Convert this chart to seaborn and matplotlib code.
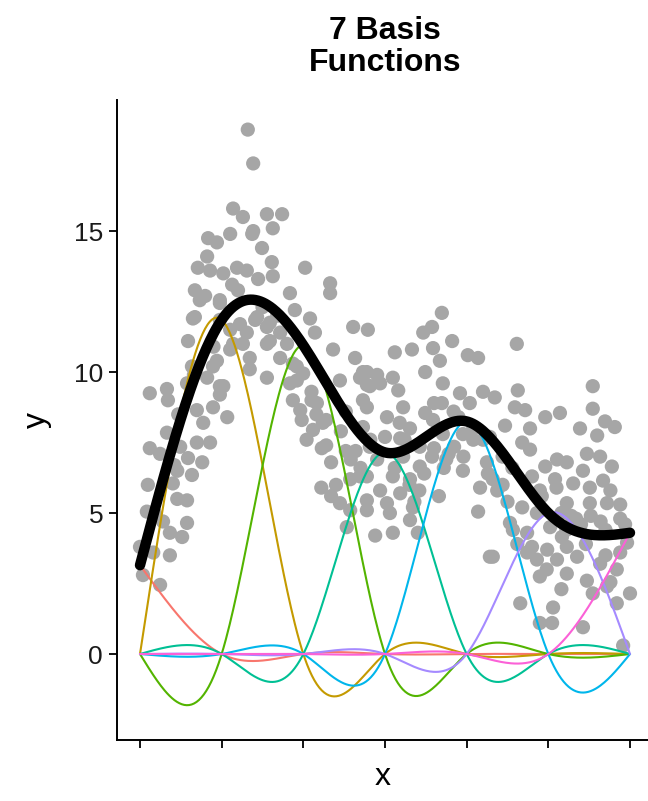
import numpy as np
import pandas as pd
import matplotlib
matplotlib.use("Agg")
import matplotlib.pyplot as plt
import seaborn as sns

# ---------------- data ----------------
title = "7 Basis\nFunctions"
knots = [0.0, 1/6, 2/6, 3/6, 4/6, 5/6, 1.0]
knot_values = [3.15, 11.85, 10.95, 7.15, 8.25, 5.0, 4.3]   # coefficient (height) of each basis
basis_names = ["b1", "b2", "b3", "b4", "b5", "b6", "b7"]
basis_colors = ["#F8766D", "#C49A00", "#53B400", "#00C094", "#00B6EB", "#A58AFF", "#FB61D7"]
yticks = [0, 5, 10, 15]

pts_x = [
    0.22, 0.231, 0.19, 0.21, 0.139, 0.157, 0.184, 0.137, 0.118, 0.143, 0.17, 0.198, 0.218, 0.112, 0.122,
    0.188, 0.163, 0.108, 0.163, 0.098, 0.184, 0.204, 0.106, 0.157, 0.184, 0.21,
    0.259, 0.29, 0.231, 0.271, 0.249, 0.269, 0.337, 0.271, 0.241, 0.388, 0.388, 0.306, 0.316, 0.347,
    0.235, 0.259, 0.218, 0.265, 0.357, 0.435, 0.465, 0.394, 0.286, 0.224, 0.439, 0.312, 0.333,
    0.229, 0.133, 0.163, 0.112, 0.239, 0.265, 0.286, 0.19, 0.259, 0.149, 0.32, 0.463, 0.096, 0.163,
    0.259, 0.306, 0.408, 0.463,
    0.02, 0.055, 0.057, 0.137, 0.17, 0.163, 0.149, 0.078, 0.116, 0.178, 0.129, 0.055, 0.02, 0.041,
    0.082, 0.116, 0.143, 0.098, 0.127, 0.076, 0.106, 0.016, 0.067, 0.076, 0.096, 0.014, 0.047, 0.096,
    0.061, 0.086, 0.0, 0.027, 0.061, 0.006, 0.041,
    0.224, 0.32, 0.312, 0.327, 0.361, 0.449, 0.455, 0.353, 0.373, 0.371, 0.429, 0.449, 0.408, 0.429,
    0.422, 0.463,
    0.616, 0.578, 0.596, 0.637, 0.52, 0.555, 0.598, 0.612, 0.669, 0.69, 0.455, 0.484, 0.516, 0.582,
    0.618, 0.469, 0.49, 0.527, 0.653, 0.7, 0.463, 0.537, 0.616, 0.673, 0.724, 0.504, 0.582, 0.598,
    0.455, 0.551, 0.5, 0.531, 0.618, 0.659, 0.469, 0.571, 0.641, 0.714, 0.484, 0.537, 0.596, 0.571,
    0.625, 0.659, 0.708, 0.463, 0.516, 0.551, 0.694, 0.72, 0.49, 0.531, 0.463, 0.504, 0.557, 0.51,
    0.551, 0.69, 0.48, 0.516, 0.567, 0.714,
    0.769, 0.924, 0.771, 0.765, 0.786, 0.827, 0.857, 0.924, 0.949, 0.969, 0.745, 0.796, 0.898, 0.933,
    0.78, 0.796, 0.912, 0.939, 0.827, 0.851, 0.871, 0.963, 0.904, 0.847, 0.884, 0.918, 0.945, 0.729,
    0.816, 0.953, 0.98, 0.871, 0.918, 0.755, 0.81, 0.837, 0.79, 0.861, 0.994, 0.8, 0.831, 0.871,
    0.72, 0.81, 0.851, 0.892, 0.98, 0.871, 0.912, 0.816, 0.939, 0.973, 0.953, 1.0, 0.924, 0.973,
    0.776, 0.843, 0.816, 0.841, 0.904, 0.986,
    0.76, 0.86, 0.9, 0.95, 0.98, 0.74, 0.8, 0.761, 0.79, 0.96, 0.88, 0.94, 0.7, 0.74,
    0.03, 0.07, 0.11, 0.15, 0.2, 0.25, 0.28, 0.3, 0.35, 0.38, 0.42, 0.47, 0.53, 0.6, 0.64, 0.68,
    0.34, 0.36, 0.39, 0.41, 0.43, 0.37, 0.40, 0.44, 0.35, 0.38, 0.42, 0.45, 0.33, 0.39,
    0.52, 0.55, 0.58, 0.61, 0.63, 0.66, 0.54, 0.57, 0.60, 0.65, 0.68, 0.71, 0.56, 0.62,
    0.75, 0.78, 0.82, 0.85, 0.89, 0.92, 0.96, 0.77, 0.83, 0.87, 0.91, 0.95, 0.99, 0.86,
]
pts_y = [
    18.6, 17.4, 15.8, 15.5, 14.75, 14.6, 14.9, 14.1, 13.7, 13.6, 13.5, 13.7, 13.6, 12.9, 12.55,
    13.1, 12.45, 11.9, 11.85, 11.1, 11.5, 11.7, 10.2, 10.4, 10.8, 11.0,
    15.6, 15.6, 15.0, 15.1, 14.4, 13.9, 13.7, 13.4, 13.3, 13.15, 12.8, 12.8, 12.2, 11.9,
    11.85, 11.6, 11.4, 11.1, 11.4, 11.6, 11.5, 10.8, 10.5, 10.5, 10.5, 10.3, 9.95,
    14.9, 12.7, 12.55, 11.95, 11.95, 11.75, 11.4, 11.0, 11.0, 10.2, 10.2, 10.0, 9.6, 9.5,
    9.8, 9.6, 9.7, 9.55,
    9.25, 9.4, 9.0, 9.8, 9.5, 9.2, 8.75, 8.5, 8.65, 8.4, 8.2, 7.85, 7.3, 7.1,
    7.35, 7.5, 7.5, 6.95, 6.8, 6.5, 6.35, 6.0, 6.05, 5.5, 5.45, 5.05, 4.7, 4.65,
    4.3, 4.15, 3.8, 3.6, 3.5, 2.8, 2.45,
    10.1, 9.7, 9.0, 8.65, 8.9, 9.8, 9.0, 7.95, 8.2, 7.3, 6.2, 6.3, 5.35, 5.1,
    4.5, 5.1,
    12.1, 11.4, 11.6, 11.1, 10.7, 10.8, 10.85, 10.4, 10.6, 10.5, 10.0, 9.9, 9.8, 10.0,
    9.6, 9.5, 9.6, 9.35, 9.25, 9.3, 8.75, 8.75, 8.9, 8.9, 9.1, 8.4, 8.55, 8.3,
    8.05, 8.0, 7.7, 7.65, 7.8, 7.8, 7.35, 7.35, 7.35, 7.7, 6.9, 7.0, 7.0, 6.65,
    6.9, 6.5, 6.8, 6.3, 6.3, 6.2, 5.9, 6.2, 5.8, 5.7, 5.45, 5.35, 5.2, 5.0,
    4.75, 5.05, 4.2, 4.3, 4.3, 3.45,
    11.0, 9.5, 9.35, 8.75, 8.65, 8.4, 8.55, 8.7, 8.25, 8.05, 8.1, 8.0, 8.0, 7.75,
    7.5, 7.25, 7.1, 7.0, 6.65, 6.9, 6.8, 6.65, 6.5, 6.2, 6.05, 5.9, 6.15, 5.8,
    5.8, 5.35, 5.3, 5.35, 5.35, 4.65, 5.0, 4.5, 4.3, 4.15, 3.95, 3.8, 3.7, 3.8,
    3.45, 3.35, 3.35, 3.45, 3.6, 2.85, 2.6, 2.75, 3.2, 3.0, 2.4, 2.15, 2.15, 1.8,
    1.8, 1.65, 1.1, 1.1, 0.95, 0.3,
    6.6, 5.0, 4.6, 4.4, 4.8, 7.0, 6.3, 4.4, 3.6, 2.55, 4.9, 4.7, 7.6, 6.0,
    5.0, 6.7, 9.9, 10.9, 12.9, 12.3, 12.0, 11.0, 9.0, 8.3, 7.2, 7.6, 8.2, 8.9, 8.6, 8.0,
    7.6, 8.5, 6.8, 7.9, 6.9, 5.9, 6.0, 7.2, 9.3, 7.4, 8.6, 6.6, 8.3, 5.6,
    6.6, 6.0, 6.4, 5.6, 7.1, 7.0, 7.6, 5.8, 7.3, 8.4, 7.6, 6.4, 5.4, 6.6,
    5.4, 5.2, 5.6, 5.9, 4.8, 4.9, 5.8, 3.9, 3.0, 4.4, 3.9, 3.5, 4.6, 2.3,
]

# ---------------- natural cubic spline (cardinal) basis ----------------
def cardinal_basis(t, xs):
    t = np.asarray(t, float)
    n = len(t)
    h = np.diff(t)
    out = []
    for j in range(n):
        v = np.zeros(n); v[j] = 1.0
        A = np.zeros((n - 2, n - 2)); r = np.zeros(n - 2)
        for i in range(1, n - 1):
            k = i - 1
            A[k, k] = 2 * (h[i - 1] + h[i])
            if k > 0: A[k, k - 1] = h[i - 1]
            if k < n - 3: A[k, k + 1] = h[i]
            r[k] = 6 * ((v[i + 1] - v[i]) / h[i] - (v[i] - v[i - 1]) / h[i - 1])
        M = np.zeros(n); M[1:-1] = np.linalg.solve(A, r)
        idx = np.clip(np.searchsorted(t, xs, side="right") - 1, 0, n - 2)
        x0, x1 = t[idx], t[idx + 1]; hh = x1 - x0
        a = (x1 - xs) / hh; b = (xs - x0) / hh
        s = (a * v[idx] + b * v[idx + 1]
             + ((a ** 3 - a) * M[idx] + (b ** 3 - b) * M[idx + 1]) * hh ** 2 / 6)
        out.append(s)
    return np.array(out)

grid = np.linspace(0, 1, 400)
B = cardinal_basis(knots, grid)
rows = []
for name, coef, b in zip(basis_names, knot_values, B):
    rows.append(pd.DataFrame({"x": grid, "y": coef * b, "basis": name}))
basis_df = pd.concat(rows, ignore_index=True)
fit_df = pd.DataFrame({"x": grid, "y": (np.array(knot_values)[:, None] * B).sum(axis=0)})
pts_df = pd.DataFrame({"x": pts_x, "y": pts_y})

# ---------------- plot ----------------
sns.set_style("ticks")
plt.rcParams["font.family"] = ["Liberation Sans", "DejaVu Sans"]

fig = plt.figure(figsize=(6.48, 8.01), dpi=100)
ax = fig.add_axes([117 / 648, 1 - 740 / 801, 1 - 117 / 648, (740 - 100) / 801])

sns.scatterplot(data=pts_df, x="x", y="y", ax=ax, color="#A6A6A6", s=105,
                edgecolor="none", linewidth=0, zorder=1)
sns.lineplot(data=basis_df, x="x", y="y", hue="basis", palette=basis_colors,
             ax=ax, legend=False, linewidth=1.5, estimator=None, sort=False, zorder=2)
sns.lineplot(data=fit_df, x="x", y="y", ax=ax, color="black", linewidth=7.5,
             estimator=None, sort=False, zorder=3)

ax.set_xlim(-23 / 490, 508 / 490)
ax.set_ylim(-3.05, 19.65)
ax.set_xticks(knots)
ax.set_xticklabels([""] * len(knots))
ax.set_yticks(yticks)
ax.set_yticklabels([str(v) for v in yticks])
ax.tick_params(axis="both", length=6, width=1.3, color="black", labelsize=19,
               labelcolor="#1a1a1a", pad=4)
sns.despine(ax=ax)
for sp in ["left", "bottom"]:
    ax.spines[sp].set_linewidth(1.4)
    ax.spines[sp].set_color("black")
ax.set_xlabel("x", fontsize=23, labelpad=6, color="black")
ax.set_ylabel("y", fontsize=23, labelpad=16, color="black")
fig.text(385 / 648, 1 - 47 / 801, title, ha="center", va="center", color="black",
         fontsize=23, fontweight="bold", linespacing=1.12)

fig.savefig("out.png", dpi=100)
